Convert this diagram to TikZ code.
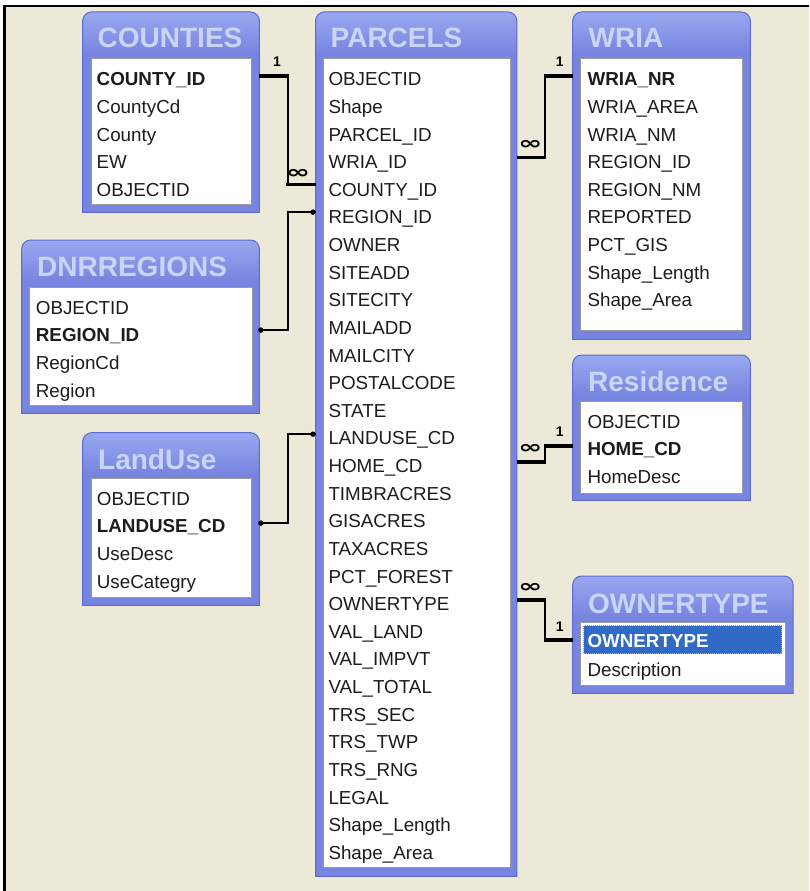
\documentclass[tikz,border=0pt]{standalone}
\usepackage{fontspec}
\setmainfont{Liberation Sans}
\newfontfamily\djvsans{DejaVu Sans}
\usetikzlibrary{calc}
\definecolor{bgbeige}{HTML}{ECE9D8}
\definecolor{framecol}{HTML}{7784E0}
\definecolor{frameedge}{HTML}{5D6AD0}
\definecolor{headtop}{HTML}{98A8F0}
\definecolor{titlecol}{HTML}{C8D5F6}
\definecolor{selblue}{HTML}{316AC5}
\definecolor{selborder}{HTML}{D89A3A}
\definecolor{panelline}{HTML}{9A9A9A}
\definecolor{fieldtext}{HTML}{1C1C1C}

\newcommand\tpath[1]{(#1.south west) -- ([yshift=-9pt]#1.north west) .. controls ([yshift=-4pt]#1.north west) and ([xshift=4pt]#1.north west) .. ([xshift=9pt]#1.north west) -- ([xshift=-9pt]#1.north east) .. controls ([xshift=-4pt]#1.north east) and ([yshift=-4pt]#1.north east) .. ([yshift=-9pt]#1.north east) -- (#1.south east) -- cycle}

\newcommand\tframe[1]{%
  \fill[framecol] \tpath{#1};
  \begin{scope}
    \clip \tpath{#1};
    \shade[top color=headtop, bottom color=framecol] (#1.north west) rectangle ([yshift=-42pt]#1.north east);
  \end{scope}
  \draw[frameedge, line width=1pt] \tpath{#1};
}

\begin{document}
\begin{tikzpicture}[x=1pt,y=-1pt,
  tbl/.style={inner sep=0, anchor=north west},
  panel/.style={draw=panelline, line width=1.2pt, fill=white, inner sep=0, anchor=north west},
  title/.style={anchor=west, inner sep=0, text=titlecol, font=\bfseries\fontsize{28}{30}\selectfont, text height=20pt, text depth=0pt},
  field/.style={anchor=west, inner sep=0, text=fieldtext, font=\fontsize{18.8}{22}\selectfont, text height=13.5pt, text depth=0pt},
  keyfield/.style={field, font=\bfseries\fontsize{18.8}{22}\selectfont},
  one/.style={inner sep=0, font=\bfseries\fontsize{14}{15}\selectfont},
  many/.style={inner sep=0, font=\djvsans\bfseries\fontsize{18}{18}\selectfont},
  thickrel/.style={line width=3.7pt},
  joinline/.style={line width=2pt},
  rel/.style={line width=1.8pt},
  dot/.style={circle, fill=black, inner sep=0, minimum size=5.5pt},
]
\useasboundingbox (0,0) rectangle (809,891);
\fill[white] (0,0) rectangle (809,891);
\fill[bgbeige] (4.7,6.2) rectangle (809,891);
\draw[line width=2.5pt] (4.7,891) -- (4.7,6.2) -- (809,6.2);

%% COUNTIES
\node[tbl, minimum width=176.3pt, minimum height=200pt] (cbox) at (82.7,12) {};
\tframe{cbox}
\node[panel, minimum width=160pt, minimum height=146pt] (cpanel) at (90.7,58) {};
\node[title] (ctitle) at (97.5,38) {COUNTIES};
\node[keyfield] (c1) at (96.5,79) {COUNTY\_ID};
\foreach \t [count=\i from 2] in {CountyCd,County,EW,OBJECTID}
  \node[field] (c\i) at (96.5,{79+27.63*(\i-1)}) {\t};

%% PARCELS
\node[tbl, minimum width=201pt, minimum height=864pt] (pbox) at (315.5,12) {};
\tframe{pbox}
\node[panel, minimum width=187.3pt, minimum height=808.7pt] (ppanel) at (322.7,58) {};
\node[title] (ptitle) at (330.5,38) {PARCELS};
\foreach \t [count=\i] in {OBJECTID,Shape,PARCEL\_ID,WRIA\_ID,COUNTY\_ID,REGION\_ID,OWNER,SITEADD,SITECITY,MAILADD,MAILCITY,POSTALCODE,STATE,LANDUSE\_CD,HOME\_CD,TIMBRACRES,GISACRES,TAXACRES,PCT\_FOREST,OWNERTYPE,VAL\_LAND,VAL\_IMPVT,VAL\_TOTAL,TRS\_SEC,TRS\_TWP,TRS\_RNG,LEGAL,Shape\_Length,Shape\_Area}
  \node[field] (p\i) at (328.3,{79+27.63*(\i-1)}) {\t};

%% WRIA
\node[tbl, minimum width=177.3pt, minimum height=327pt] (wbox) at (572.7,12) {};
\tframe{wbox}
\node[panel, minimum width=161.7pt, minimum height=272pt] (wpanel) at (580,58) {};
\node[title] (wtitle) at (588.5,38) {WRIA};
\node[keyfield] (w1) at (587.3,79) {WRIA\_NR};
\foreach \t [count=\i from 2] in {WRIA\_AREA,WRIA\_NM,REGION\_ID,REGION\_NM,REPORTED,PCT\_GIS,Shape\_Length,Shape\_Area}
  \node[field] (w\i) at (587.3,{79+27.63*(\i-1)}) {\t};

%% DNRREGIONS
\node[tbl, minimum width=237.3pt, minimum height=173pt] (dbox) at (21.7,240) {};
\tframe{dbox}
\node[panel, minimum width=222.7pt, minimum height=118.3pt] (dpanel) at (29,286.7) {};
\node[title] (dtitle) at (37,266.7) {DNRREGIONS};
\node[field] (d1) at (35.7,307.5) {OBJECTID};
\node[keyfield] (d2) at (35.7,335.1) {REGION\_ID};
\node[field] (d3) at (35.7,362.8) {RegionCd};
\node[field] (d4) at (35.7,390.4) {Region};

%% LandUse
\node[tbl, minimum width=176.3pt, minimum height=172.3pt] (lbox) at (82.7,432.7) {};
\tframe{lbox}
\node[panel, minimum width=160pt, minimum height=118.7pt] (lpanel) at (90.7,478) {};
\node[title] (ltitle) at (98,459) {LandUse};
\node[field] (l1) at (96.7,498.5) {OBJECTID};
\node[keyfield] (l2) at (96.7,526.1) {LANDUSE\_CD};
\node[field] (l3) at (96.7,553.8) {UseDesc};
\node[field] (l4) at (96.7,581.4) {UseCategry};

%% Residence
\node[tbl, minimum width=177.3pt, minimum height=145pt] (rbox) at (572.7,355) {};
\tframe{rbox}
\node[panel, minimum width=162pt, minimum height=92pt] (rpanel) at (580,401) {};
\node[title] (rtitle) at (588,381.7) {Residence};
\node[field] (res1) at (587.3,421.5) {OBJECTID};
\node[keyfield] (res2) at (587.3,449) {HOME\_CD};
\node[field] (res3) at (587.3,476.6) {HomeDesc};

%% OWNERTYPE
\node[tbl, minimum width=220pt, minimum height=117pt] (obox) at (572.7,576) {};
\tframe{obox}
\node[panel, minimum width=205pt, minimum height=63.3pt] (opanel) at (580,621.7) {};
\node[title] (otitle) at (588,603) {OWNERTYPE};
\node[fill=selblue, draw=selborder, densely dotted, line width=1pt, inner sep=0, anchor=north west, minimum width=198pt, minimum height=28pt] (osel) at (583,625) {};
\node[keyfield, text=white] (o1) at (587.3,640.5) {OWNERTYPE};
\node[field] (o2) at (587.3,669.5) {Description};

%% relation COUNTIES - PARCELS
\coordinate (r1one) at ($(cbox.east |- c1)+(0,-3)$);
\coordinate (r1many) at ($(pbox.west |- p5)+(0,-5)$);
\draw[joinline] (r1one) -- ++(28.5,0) |- (r1many);
\draw[thickrel] (r1one) -- ++(29.5,0);
\draw[thickrel] (r1many) -- ++(-29.8,0);
\node[one] (r1l1) at ($(r1one)+(17.5,-14)$) {1};
\node[many] (r1lm) at ($(r1many)+(-17.5,-11)$) {\scalebox{1.6}[1]{∞}};

%% relation WRIA - PARCELS
\coordinate (r2one) at ($(wbox.west |- w1)+(0,-3)$);
\coordinate (r2many) at ($(pbox.east |- p4)+(0,-4.5)$);
\draw[joinline] (r2many) -- ++(28.5,0) |- (r2one);
\draw[thickrel] (r2many) -- ++(29.5,0);
\draw[thickrel] (r2one) -- ++(-29.2,0);
\node[one] (r2l1) at ($(r2one)+(-13,-14)$) {1};
\node[many] (r2lm) at ($(r2many)+(13.5,-12.5)$) {\scalebox{1.6}[1]{∞}};

%% relation DNRREGIONS - PARCELS
\coordinate (r3a) at ($(dbox.east |- d2)+(0,-5)$);
\coordinate (r3b) at ($(pbox.west |- p6)+(0,-5)$);
\draw[rel] (r3a) -- ++(28.5,0) |- (r3b);
\node[dot] (r3da) at ($(r3a)+(1.5,0)$) {};
\node[dot] (r3db) at ($(r3b)+(-2.5,0)$) {};

%% relation LandUse - PARCELS
\coordinate (r4a) at ($(lbox.east |- l2)+(0,-3)$);
\coordinate (r4b) at ($(pbox.west |- p14)+(0,-4)$);
\draw[rel] (r4a) -- ++(28.5,0) |- (r4b);
\node[dot] (r4da) at ($(r4a)+(1.5,0)$) {};
\node[dot] (r4db) at ($(r4b)+(-2.5,0)$) {};

%% relation Residence - PARCELS
\coordinate (r5one) at ($(rbox.west |- res2)+(0,-3)$);
\coordinate (r5many) at ($(pbox.east |- p15)+(0,-4)$);
\draw[joinline] (r5many) -- ++(28.5,0) |- (r5one);
\draw[thickrel] (r5many) -- ++(29.5,0);
\draw[thickrel] (r5one) -- ++(-29.2,0);
\node[one] (r5l1) at ($(r5one)+(-13,-14)$) {1};
\node[many] (r5lm) at ($(r5many)+(13.5,-12.5)$) {\scalebox{1.6}[1]{∞}};

%% relation OWNERTYPE - PARCELS
\coordinate (r6one) at ($(obox.west |- o1)+(0,-0.5)$);
\coordinate (r6many) at ($(pbox.east |- p20)+(0,-4)$);
\draw[joinline] (r6many) -- ++(28.5,0) |- (r6one);
\draw[thickrel] (r6many) -- ++(29.5,0);
\draw[thickrel] (r6one) -- ++(-29.2,0);
\node[one] (r6l1) at ($(r6one)+(-13,-13)$) {1};
\node[many] (r6lm) at ($(r6many)+(13.5,-12.5)$) {\scalebox{1.6}[1]{∞}};
\end{tikzpicture}
\end{document}
